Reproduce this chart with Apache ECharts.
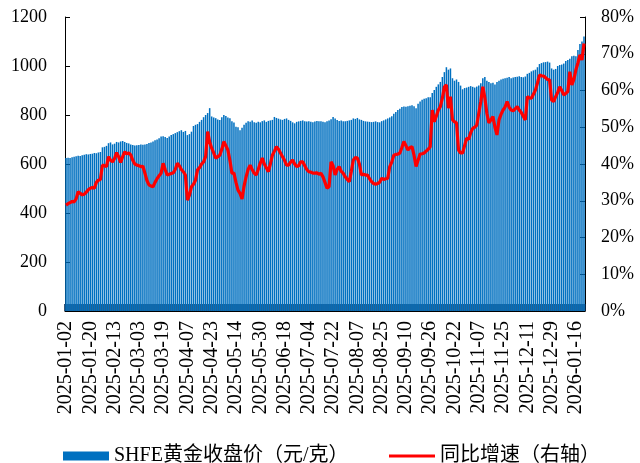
<!DOCTYPE html>
<html>
<head>
<meta charset="utf-8">
<script src="https://cdn.jsdelivr.net/npm/echarts@6/dist/echarts.min.js"></script>
<style>html,body{margin:0;padding:0;background:#fff}#c{width:640px;height:463px}</style>
</head>
<body>
<div id="c"></div>
<script>
// Trading calendar (SHFE) – first day, number of bars and exchange holidays
const firstDay = '2025-01-02';
const barCount = 257;
const holidays = ['2025-01-01','2025-01-28','2025-01-29','2025-01-30','2025-01-31','2025-02-03','2025-02-04',
  '2025-04-04','2025-05-01','2025-05-02','2025-05-05','2025-06-02',
  '2025-10-01','2025-10-02','2025-10-03','2025-10-06','2025-10-07','2025-10-08',
  '2026-01-01','2026-01-02'];

// SHFE gold closing price (yuan/gram)
const price = [
  624,626,625,628,630,632,634,633,636,638,640,639,
  641,642,645,644,647,649,668,670,674,685,688,680,
  683,690,688,692,694,690,686,684,680,678,676,677,
  678,680,679,680,682,686,688,692,697,700,705,712,
  713,710,706,712,718,722,726,730,734,738,731,735,
  718,722,732,755,760,763,772,780,791,800,808,828,
  794,790,787,782,780,791,800,796,790,787,775,769,
  752,750,738,748,760,768,775,772,778,770,768,772,
  770,775,778,772,776,778,780,792,788,785,782,780,
  784,786,780,776,770,766,772,774,776,778,775,773,
  774,772,770,773,776,775,774,772,770,774,778,783,
  792,786,780,776,778,775,774,776,778,780,786,784,
  788,782,780,776,774,773,772,771,772,774,771,770,
  775,778,782,786,790,795,805,812,820,826,833,835,
  834,836,838,840,836,828,846,855,862,866,868,872,
  872,890,902,915,925,935,955,975,995,985,990,950,
  940,945,935,920,905,910,912,915,918,915,912,916,
  920,930,950,955,940,935,930,932,925,935,940,945,
  948,950,952,955,950,953,955,956,958,955,954,957,
  968,972,978,982,985,995,1008,1012,1015,1016,1018,1014,
  990,985,988,1000,1004,1006,1010,1020,1024,1030,1040,1042,
  1040,1065,1090,1100,1120
];

// Year-on-year growth (%), right axis
const yoy = [
  28.8,29.2,29.5,29.8,29.7,30.5,32.5,32.0,31.6,31.8,32.3,33.0,
  33.4,33.6,33.4,35.0,35.6,35.8,39.7,39.5,39.3,42.0,41.0,40.6,
  41.5,43.1,42.0,40.4,42.0,43.3,42.8,43.0,42.5,41.0,40.0,39.7,
  39.5,39.3,39.4,37.5,35.5,34.3,34.0,33.8,35.0,36.0,36.8,37.5,
  40.2,38.5,37.0,37.2,37.4,37.6,38.5,40.2,39.5,38.5,37.9,37.0,
  30.2,31.5,33.8,34.5,35.6,38.4,39.0,40.0,40.6,42.0,48.8,46.0,
  44.3,43.0,41.6,42.0,42.4,44.0,46.1,45.0,43.8,41.0,37.5,37.5,
  35.0,32.9,32.0,30.5,34.0,36.5,38.5,39.7,38.5,37.5,37.0,38.5,
  40.2,41.6,40.0,39.0,37.9,40.0,42.4,43.5,44.7,44.0,43.0,42.0,
  41.0,39.7,39.7,40.5,41.1,40.0,39.3,39.5,40.6,40.6,39.5,38.5,
  37.9,37.8,37.5,37.5,37.6,37.2,37.5,36.5,35.0,33.4,33.8,40.6,
  39.5,37.0,38.5,39.3,38.0,37.5,36.5,35.8,35.2,38.0,41.1,41.8,
  41.6,40.0,37.0,37.2,37.0,37.0,36.0,35.2,34.7,34.5,34.7,35.0,
  36.1,35.8,36.0,36.1,39.3,40.5,42.4,42.6,42.7,43.0,44.5,46.1,
  45.0,43.8,44.5,44.7,42.4,39.3,41.0,42.7,42.8,43.0,43.5,44.0,
  44.7,54.7,51.5,53.0,54.7,55.6,57.9,61.0,61.5,55.2,58.3,52.0,
  51.5,51.2,43.8,43.0,43.0,45.0,47.0,46.7,48.5,49.7,50.0,50.6,
  53.8,57.0,61.0,58.0,53.8,51.2,52.0,52.9,50.0,47.9,52.0,53.5,
  54.7,55.5,57.0,55.5,54.7,54.5,55.0,55.6,54.7,54.0,53.0,52.0,
  58.3,58.0,57.9,59.0,60.1,62.0,64.2,64.0,63.9,63.5,63.0,62.9,
  57.4,57.0,58.3,59.5,61.0,60.0,58.8,59.2,59.7,65.1,61.5,63.0,
  65.6,67.5,69.7,68.3,72.8
];

const leftTicks = {min: 0, max: 1200, interval: 200};
const rightTicks = {min: 0, max: 80, interval: 10};
const seriesNames = ['SHFE黄金收盘价（元/克）', '同比增速（右轴）'];

function pad(n){return n < 10 ? '0' + n : '' + n;}
function fmt(d){return d.getUTCFullYear() + '-' + pad(d.getUTCMonth() + 1) + '-' + pad(d.getUTCDate());}
const dates = [];
{
  const d = new Date(firstDay + 'T00:00:00Z');
  const hs = new Set(holidays);
  while (dates.length < barCount) {
    const wd = d.getUTCDay();
    const s = fmt(d);
    if (wd !== 0 && wd !== 6 && !hs.has(s)) dates.push(s);
    d.setUTCDate(d.getUTCDate() + 1);
  }
}

const FONT = '"Liberation Serif", "Times New Roman", "Noto Sans CJK SC", serif';
const chart = echarts.init(document.getElementById('c'), null, {renderer: 'canvas'});
chart.setOption({
  animation: false,
  backgroundColor: '#ffffff',
  grid: {left: 65, right: 55, top: 17, bottom: 152, containLabel: false},
  legend: [
    {data: [{name: seriesNames[0], icon: 'rect'}], left: 58, top: 441, itemWidth: 46, itemHeight: 9,
     textStyle: {fontFamily: FONT, fontSize: 20, color: '#000'}},
    {data: [{name: seriesNames[1], icon: 'rect'}], left: 384, top: 441, itemWidth: 46, itemHeight: 3,
     textStyle: {fontFamily: FONT, fontSize: 20, color: '#000'}}
  ],
  xAxis: {
    type: 'category', data: dates, boundaryGap: true,
    axisLine: {show: true, lineStyle: {color: '#000', width: 1}},
    axisTick: {show: true, inside: true, interval: 0, length: 7, lineStyle: {color: '#0d2b4d', width: 1.6}},
    axisLabel: {interval: 11, rotate: 90, margin: 10, fontFamily: FONT, fontSize: 20, color: '#000'},
    splitLine: {show: false}
  },
  yAxis: [
    {type: 'value', min: leftTicks.min, max: leftTicks.max, interval: leftTicks.interval,
     axisLine: {show: true, lineStyle: {color: '#000'}},
     axisTick: {show: true, inside: true, length: 5, lineStyle: {color: '#000'}},
     axisLabel: {fontFamily: FONT, fontSize: 18, color: '#000', margin: 18, formatter: function (v) { return String(v); }},
     splitLine: {show: false}},
    {type: 'value', min: rightTicks.min, max: rightTicks.max, interval: rightTicks.interval,
     axisLine: {show: true, lineStyle: {color: '#000'}},
     axisTick: {show: true, inside: true, length: 5, lineStyle: {color: '#000'}},
     axisLabel: {fontFamily: FONT, fontSize: 18, color: '#000', margin: 16, formatter: '{value}%'},
     splitLine: {show: false}}
  ],
  series: [
    {name: seriesNames[0], type: 'bar', data: price, yAxisIndex: 0,
     barCategoryGap: '25%', itemStyle: {color: '#0070C0'}},
    {name: seriesNames[1], type: 'line', data: yoy, yAxisIndex: 1, z: 3,
     showSymbol: false, symbol: 'none', lineStyle: {color: '#FF0000', width: 3.2}, itemStyle: {color: '#FF0000'}}
  ]
});
</script>
</body>
</html>
